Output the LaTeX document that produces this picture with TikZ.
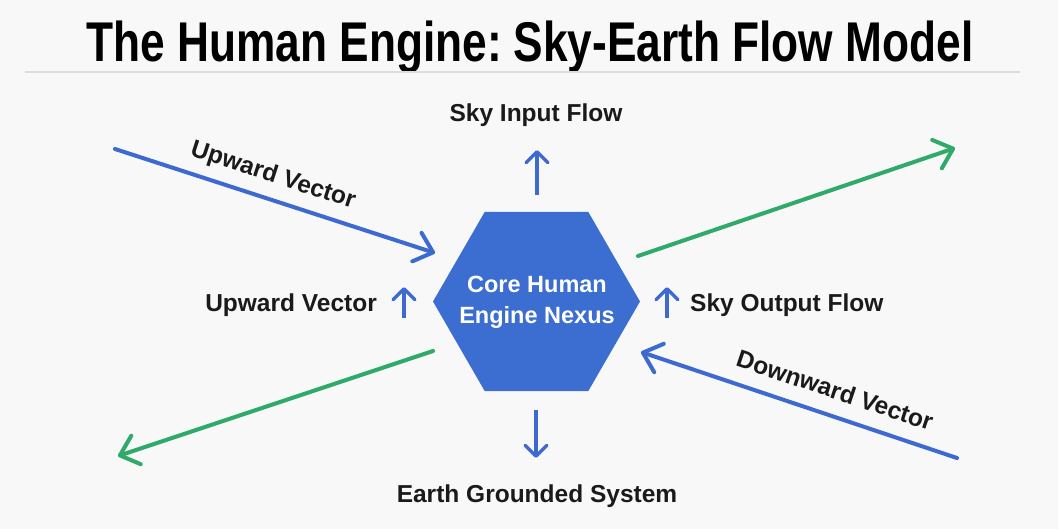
\documentclass[tikz,border=0pt]{standalone}
\usepackage{fontspec}
\setmainfont{Liberation Sans}
\usetikzlibrary{arrows.meta,shapes.geometric}
\definecolor{bg}{HTML}{F8F8F8}
\definecolor{hexblue}{HTML}{3B6ED0}
\definecolor{arrblue}{HTML}{3D6AD0}
\definecolor{arrgreen}{HTML}{2FAA68}
\definecolor{ink}{HTML}{1A1A1A}
\definecolor{rulegray}{HTML}{DDDDDD}
\begin{document}
\begin{tikzpicture}[x=1pt,y=-1pt,
  lbl/.style={inner sep=0pt, text=ink, font=\fontsize{24.5}{28}\selectfont\bfseries},
  bigarrow/.style={line width=4pt, line cap=round, -{Straight Barb[length=17pt,width=30pt,round]}},
  blueflow/.style={bigarrow, draw=arrblue},
  greenflow/.style={bigarrow, draw=arrgreen},
  smallarrow/.style={line width=3.5pt, draw=arrblue, -{Straight Barb[length=11pt,width=22pt,round]}},
  hexnode/.style={regular polygon, regular polygon sides=6, minimum size=207pt, inner sep=0pt,
    outer sep=0pt, fill=hexblue},
  hextext/.style={inner sep=0pt, text=white, align=center,
    font=\fontsize{23.5}{31}\selectfont\bfseries}
]
\fill[bg] (0,0) rectangle (1058,529);
\useasboundingbox (0,0) rectangle (1058,529);

% title and rule
\node[anchor=base, inner sep=0pt, text=black, font=\fontsize{56}{60}\selectfont\bfseries] (title) at (530,62)
  {\scalebox{0.79}[1]{The Human Engine:\hspace{-0.1em} Sky-Earth Flow Model}};
\coordinate (ruleL) at (25,72);
\coordinate (ruleR) at (1020,72);
\draw[rulegray, line width=1.5pt] (ruleL) -- (ruleR);

% central hexagon
\node[hexnode] (hub) at (536.5,301.5) {};
\node[hextext] (hubtext) at (537,302) {Core Human\\Engine Nexus};

% text labels
\node[lbl, anchor=base] (skyin) at (536,122) {Sky Input Flow};
\node[lbl, anchor=base] (earth) at (537,502) {Earth Grounded System};
\node[lbl, anchor=base east] (upleft) at (377,312) {Upward Vector};
\node[lbl, anchor=base west] (skyout) at (690,312) {Sky Output Flow};
\node[lbl, rotate=-18] (uptl) at (273,176) {Upward Vector};
\node[lbl, rotate=-18.5] (downbr) at (835,390) {Downward Vector};

% end points of the free arrows
\coordinate (tlA) at (115,149);  \coordinate (tlB) at (435,253);
\coordinate (trA) at (638,256);  \coordinate (trB) at (955,148);
\coordinate (blA) at (433,351);  \coordinate (blB) at (118,456);
\coordinate (brA) at (957,458);  \coordinate (brB) at (641,352);
\coordinate (inA) at (537,195);  \coordinate (inB) at (537,150);
\coordinate (dnA) at (536,410);  \coordinate (dnB) at (536,458);
\coordinate (ulA) at (404,318);  \coordinate (ulB) at (404,287);
\coordinate (urA) at (667,318);  \coordinate (urB) at (667,287);

% long arrows
\draw[blueflow] (tlA) -- (tlB);
\draw[greenflow] (trA) -- (trB);
\draw[greenflow] (blA) -- (blB);
\draw[blueflow] (brA) -- (brB);

% short arrows
\draw[smallarrow] (inA) -- (inB);
\draw[smallarrow] (dnA) -- (dnB);
\draw[smallarrow] (ulA) -- (ulB);
\draw[smallarrow] (urA) -- (urB);
\end{tikzpicture}
\end{document}
